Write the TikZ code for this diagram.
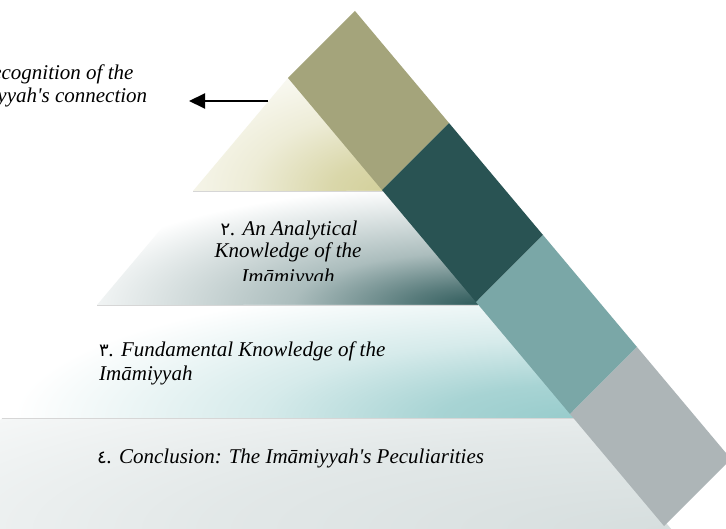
\documentclass[tikz,border=0pt]{standalone}
\usepackage{fontspec}
\setmainfont{Liberation Serif}
\newfontfamily\lblfont{Liberation Serif}
\newfontfamily\digitfont{DejaVu Sans}
\usetikzlibrary{arrows.meta}
\definecolor{cellOlive}{HTML}{A4A47B}
\definecolor{cellDark}{HTML}{295353}
\definecolor{cellTeal}{HTML}{7AA7A7}
\definecolor{cellGray}{HTML}{ADB5B7}
\definecolor{bandA}{HTML}{D3D09B}
\definecolor{bandB}{HTML}{2E5A5A}
\definecolor{bandC}{HTML}{98CCCC}
\definecolor{bandD}{HTML}{D6DEDE}
\pgfdeclareradialshading{fadeA}{\pgfpoint{0bp}{0bp}}{color(0bp)=(bandA); color(5bp)=(bandA!85!white); color(13bp)=(bandA!40!white); color(25bp)=(white); color(50bp)=(white)}
\pgfdeclareradialshading{fadeB}{\pgfpoint{0bp}{0bp}}{color(0bp)=(bandB); color(4bp)=(bandB!80!white); color(11bp)=(bandB!40!white); color(25bp)=(white); color(50bp)=(white)}
\pgfdeclareradialshading{fadeC}{\pgfpoint{0bp}{0bp}}{color(0bp)=(bandC); color(6bp)=(bandC!85!white); color(14bp)=(bandC!40!white); color(25bp)=(white); color(50bp)=(white)}
\pgfdeclareradialshading{fadeD}{\pgfpoint{0bp}{0bp}}{color(0bp)=(bandD); color(12bp)=(bandD!70!white); color(25bp)=(bandD!15!white); color(50bp)=(white)}
\newcommand{\ad}[1]{{\digitfont\upshape\fontsize{18}{20}\selectfont #1}}
\begin{document}
\begin{tikzpicture}[x=1pt,y=-1pt,
  lbl/.style={font=\lblfont\fontsize{21}{24}\selectfont\itshape, inner sep=0pt},
  sepline/.style={draw=black!16, line width=0.7pt}]
\useasboundingbox (0,0) rectangle (726,529);
\fill[white] (0,0) rectangle (726,529);
% ---- pyramid bands ----
\begin{scope}
  \clip (288,78) -- (193,191) -- (388,191) -- (293,78) -- cycle;
  \shade[shading=fadeA] (383,191) ellipse [x radius=260pt, y radius=150pt];
\end{scope}
\begin{scope}
  \clip (193,191) -- (97,305) -- (483,305) -- (388,191) -- cycle;
  \shade[shading=fadeB] (478,305) ellipse [x radius=420pt, y radius=120pt];
\end{scope}
\begin{scope}
  \clip (97,305) -- (2,418) -- (579,418) -- (483,305) -- cycle;
  \shade[shading=fadeC] (574,418) ellipse [x radius=560pt, y radius=140pt];
\end{scope}
\begin{scope}
  \clip (2,418) -- (-95,530) -- (672,530) -- (579,418) -- cycle;
  \shade[shading=fadeD] (668,529) ellipse [x radius=950pt, y radius=190pt];
\end{scope}
\draw[sepline] (193,191) -- (383,191);
\draw[sepline] (97,305) -- (478,305);
\draw[sepline] (2,418) -- (574,418);
% ---- diagonal band ----
\coordinate (A0) at (288,78);  \coordinate (B0) at (355,11);
\coordinate (A1) at (382,190); \coordinate (B1) at (449,123);
\coordinate (A2) at (476,302); \coordinate (B2) at (543,235);
\coordinate (A3) at (570,414); \coordinate (B3) at (637,347);
\coordinate (A4) at (664,526); \coordinate (B4) at (731,459);
\fill[cellOlive] (A0) -- (A1) -- (B1) -- (B0) -- cycle;
\fill[cellDark] (A1) -- (A2) -- (B2) -- (B1) -- cycle;
\fill[cellTeal] (A2) -- (A3) -- (B3) -- (B2) -- cycle;
\fill[cellGray] (A3) -- (A4) -- (B4) -- (B3) -- cycle;
% ---- labels ----
\node[lbl, anchor=base] (t1a) at (45.5,80) {\ad{١}. Recognition of the};
\node[lbl, anchor=base] (t1b) at (45.5,103) {Imāmiyyah's connection};
\coordinate (arrTail) at (268,101);
\coordinate (arrTip) at (189,101);
\draw[line width=2pt, -{Triangle[length=16pt, width=15pt]}] (arrTail) -- (arrTip);
\node[lbl, anchor=base] (t2a) at (289,236) {\ad{٢}. An Analytical};
\node[lbl, anchor=base] (t2b) at (288,258) {Knowledge of the};
\begin{scope}
  \clip (150,262) rectangle (420,281);
  \node[lbl, anchor=base] (t2c) at (288,284) {Imāmiyyah};
\end{scope}
\node[lbl, anchor=base west] (t3a) at (99,357) {\ad{٣}. Fundamental Knowledge of the};
\node[lbl, anchor=base west] (t3b) at (99,381) {Imāmiyyah};
\node[lbl, anchor=base west] (t4) at (97,463) {\ad{٤}. Conclusion: The Imāmiyyah's Peculiarities};
\end{tikzpicture}
\end{document}
